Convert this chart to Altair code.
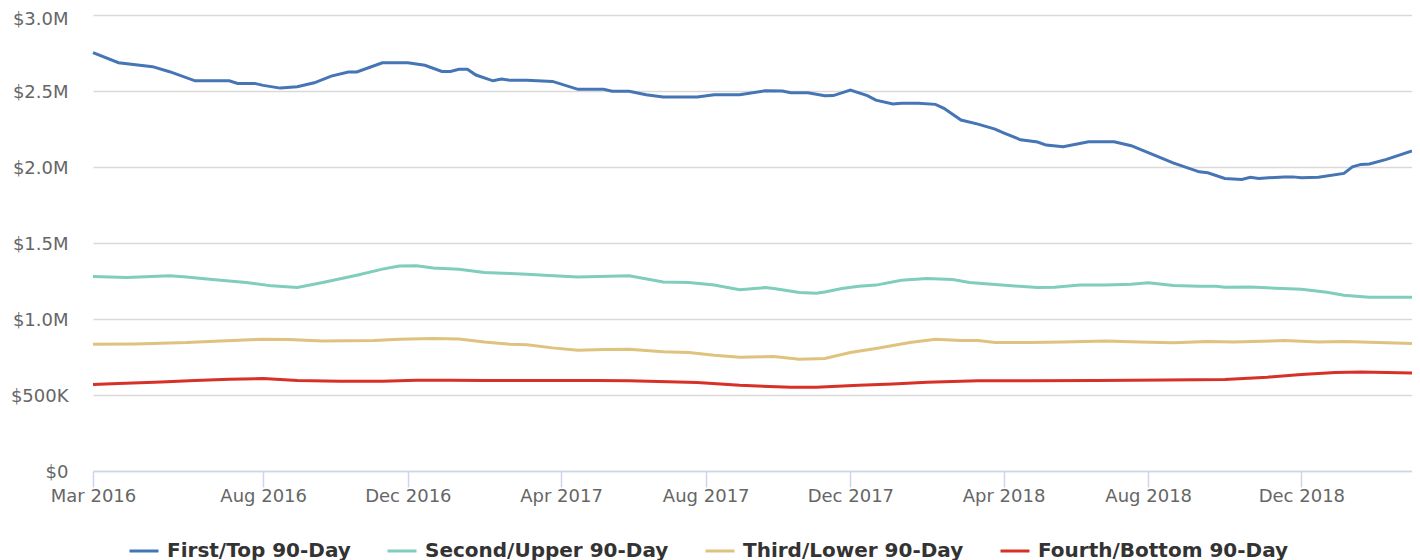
import altair as alt
import pandas as pd

# ---------------- data (values in $ millions, weekly dates) ----------------
START = "2016-03-18"  # first weekly observation (week 0)

series_names = ["First/Top 90-Day", "Second/Upper 90-Day",
                "Third/Lower 90-Day", "Fourth/Bottom 90-Day"]
series_colors = ["#4575b4", "#7fcdbb", "#dfc27d", "#d73027"]

top_weeks = [0, 3, 7, 9, 12, 16, 17, 19, 20, 22, 24, 26, 28, 30, 31, 34, 37, 39,
             41, 42, 43, 44, 45, 47, 48, 49, 51, 54, 57, 60, 61, 63, 65, 67, 71,
             73, 76, 79, 81, 82, 84, 86, 87, 89, 91, 92, 94, 95, 97, 99, 100, 102,
             104, 106, 107, 109, 111, 112, 114, 117, 120, 122, 124, 127, 130, 131,
             133, 135, 136, 137, 140, 141, 142, 144, 147, 148, 149, 150, 152, 155]
top_values = [2.752, 2.686, 2.660, 2.627, 2.567, 2.567, 2.550, 2.550, 2.537, 2.519,
              2.528, 2.554, 2.598, 2.625, 2.625, 2.686, 2.686, 2.669, 2.629, 2.629,
              2.643, 2.643, 2.605, 2.567, 2.579, 2.570, 2.570, 2.563, 2.511, 2.511,
              2.498, 2.498, 2.475, 2.460, 2.460, 2.475, 2.475, 2.502, 2.500, 2.488,
              2.488, 2.469, 2.470, 2.506, 2.470, 2.440, 2.414, 2.420, 2.420, 2.412,
              2.386, 2.309, 2.282, 2.249, 2.225, 2.179, 2.164, 2.144, 2.133, 2.166,
              2.166, 2.140, 2.094, 2.026, 1.968, 1.962, 1.925, 1.918, 1.932, 1.925,
              1.935, 1.935, 1.929, 1.932, 1.958, 2.001, 2.017, 2.020, 2.050, 2.105]

upper_weeks = [0, 4, 9, 11, 14, 18, 21, 24, 27, 31, 34, 36, 38, 40, 43, 46, 49, 51,
               53, 57, 63, 67, 70, 73, 76, 79, 80, 83, 85, 86, 88, 90, 92, 95, 98,
               101, 103, 106, 111, 113, 116, 119, 122, 124, 127, 130, 132, 133, 136,
               138, 142, 145, 147, 150, 155]
upper_values = [1.280, 1.273, 1.284, 1.277, 1.260, 1.240, 1.218, 1.207, 1.240, 1.288,
                1.328, 1.348, 1.350, 1.336, 1.328, 1.306, 1.300, 1.295, 1.288, 1.277,
                1.284, 1.244, 1.240, 1.223, 1.192, 1.207, 1.201, 1.174, 1.170, 1.178,
                1.201, 1.216, 1.223, 1.255, 1.266, 1.260, 1.240, 1.227, 1.207, 1.209,
                1.223, 1.223, 1.229, 1.238, 1.220, 1.216, 1.216, 1.209, 1.211, 1.205,
                1.196, 1.176, 1.157, 1.143, 1.143]

lower_weeks = [0, 5, 11, 15, 20, 23, 27, 33, 36, 40, 43, 46, 49, 51, 54, 57, 60, 63,
               67, 70, 73, 76, 80, 83, 86, 89, 92, 96, 99, 102, 104, 106, 110, 114,
               119, 123, 127, 131, 134, 140, 144, 147, 155]
lower_values = [0.834, 0.836, 0.845, 0.856, 0.867, 0.865, 0.856, 0.858, 0.867, 0.872,
                0.869, 0.849, 0.834, 0.830, 0.810, 0.795, 0.799, 0.801, 0.784, 0.779,
                0.762, 0.749, 0.753, 0.735, 0.740, 0.779, 0.806, 0.845, 0.867, 0.858,
                0.858, 0.845, 0.845, 0.849, 0.856, 0.849, 0.843, 0.852, 0.849, 0.858,
                0.849, 0.852, 0.839]

bottom_weeks = [0, 3, 8, 12, 16, 20, 24, 29, 34, 38, 42, 46, 52, 59, 63, 71, 76, 82,
                85, 90, 94, 98, 104, 110, 118, 126, 133, 138, 142, 146, 149, 155]
bottom_values = [0.569, 0.575, 0.586, 0.595, 0.604, 0.608, 0.595, 0.591, 0.591, 0.597,
                 0.597, 0.595, 0.595, 0.595, 0.593, 0.582, 0.564, 0.551, 0.551, 0.564,
                 0.573, 0.584, 0.593, 0.593, 0.595, 0.599, 0.602, 0.617, 0.635, 0.648,
                 0.652, 0.645]

x_tick_weeks = [0, 20, 37, 55, 72, 89, 107, 124, 142]
last_week = 155
y_ticks = [0, 0.5, 1.0, 1.5, 2.0, 2.5, 3.0]

# ---------------- build table ----------------
start = pd.Timestamp(START)


def week_date(w):
    return start + pd.Timedelta(days=7 * w)


rows = []
for i, (name, weeks, vals) in enumerate(zip(
        series_names,
        [top_weeks, upper_weeks, lower_weeks, bottom_weeks],
        [top_values, upper_values, lower_values, bottom_values])):
    for w, v in zip(weeks, vals):
        rows.append({"date": week_date(w).strftime("%Y-%m-%dT00:00:00"),
                     "value": v, "series": name, "order": i})
df = pd.DataFrame(rows)


def dt(ts):
    return alt.DateTime(year=ts.year, month=ts.month, date=ts.day)


x_ticks = [dt(week_date(w)) for w in x_tick_weeks]
x_domain = [dt(week_date(0)), dt(week_date(last_week))]

FONT = "DejaVu Sans"

y_label = ("datum.value == 0 ? '$0' : (datum.value < 1 ? '$' + format(datum.value * 1000, '.0f') + 'K'"
           " : '$' + format(datum.value, '.1f') + 'M')")

chart = alt.Chart(df).mark_line(strokeWidth=3, interpolate="linear").encode(
    x=alt.X("date:T",
            scale=alt.Scale(domain=x_domain, nice=False),
            axis=alt.Axis(values=x_ticks, format="%b %Y", title=None,
                          grid=False, labelFlush=False,
                          domainColor="#ccd6eb", domainWidth=1.5,
                          tickColor="#ccd6eb", tickWidth=1.5, tickSize=16,
                          labelPadding=0, labelFontSize=18, labelColor="#666666",
                          labelFont=FONT)),
    y=alt.Y("value:Q",
            scale=alt.Scale(domain=[0, 3.0], nice=False),
            axis=alt.Axis(values=y_ticks, labelExpr=y_label, title=None,
                          domain=False, ticks=False, labelPadding=25,
                          labelOffset={"condition": {"test": "datum.value >= 3", "value": 4.5},
                                       "value": 1},
                          grid=True, gridColor="#d9d9d9", gridWidth=1.5,
                          labelFontSize=18, labelColor="#666666", labelFont=FONT)),
    color=alt.Color("series:N",
                    scale=alt.Scale(domain=series_names, range=series_colors),
                    legend=alt.Legend(title=None, orient="none", direction="horizontal",
                                      legendX=35, legendY=520, columns=4,
                                      symbolType="stroke", symbolSize=840,
                                      symbolStrokeWidth=3, labelOffset=7,
                                      columnPadding=30, labelFont=FONT,
                                      labelFontSize=20, labelFontWeight="bold",
                                      labelColor="#333333", labelLimit=400)),
    order=alt.Order("order:Q"),
).properties(
    width=1319,
    height=456,
    autosize=alt.AutoSizeParams(type="none"),
    padding={"left": 85, "top": 7, "right": 0, "bottom": 89},
    background="white",
).configure_view(stroke=None)

chart.save("out.html", embed_options={"renderer": "svg", "actions": False})
